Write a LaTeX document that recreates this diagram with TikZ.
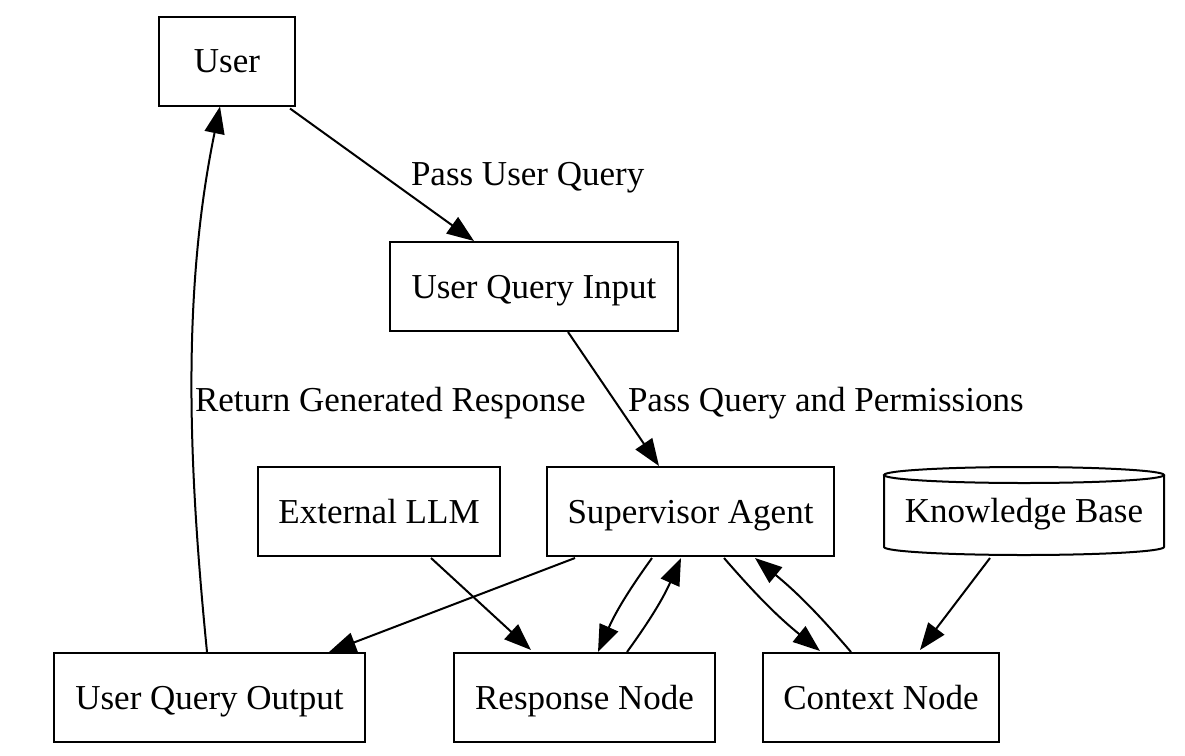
\documentclass[tikz,border=0pt]{standalone}
\usepackage{fontspec}
\setmainfont{Liberation Serif}
\usetikzlibrary{arrows.meta,calc}
\begin{document}
\begin{tikzpicture}[x=1pt,y=-1pt,
  every node/.style={font=\fontsize{35}{42}\selectfont, inner sep=0pt, outer sep=0pt},
  box/.style={draw, line width=2pt, minimum height=89pt, text height=30pt, text depth=7pt},
  lbl/.style={anchor=base west},
  edge/.style={line width=2pt, -{Triangle[length=27pt,width=20pt]}}
]
\useasboundingbox (0,0) rectangle (1185,755);
% nodes
\node[box, minimum width=136pt] (user) at (227,61) {User};
\node[box, minimum width=288pt] (uqi) at (534,286.5) {User Query Input};
\node[box, minimum width=242pt] (llm) at (379,511.5) {External LLM};
\node[box, minimum width=287pt] (sa) at (690.5,511.5) {Supervisor Agent};
\node[minimum width=280pt, minimum height=88pt, text height=30pt, text depth=7pt] (kb) at (1024,511) {Knowledge Base};
\node[box, minimum width=311pt] (uqo) at (209.5,697.5) {User Query Output};
\node[box, minimum width=261pt] (rn) at (584.5,697.5) {Response Node};
\node[box, minimum width=236pt] (cn) at (881,697.5) {Context Node};
% cylinder outline
\draw[line width=2pt] ($(kb.north)+(0,8)$) ellipse [x radius=140pt, y radius=8pt];
\draw[line width=2pt] ($(kb.north west)+(0,8)$) -- ($(kb.south west)+(0,-8)$)
  arc[start angle=180, end angle=360, x radius=140pt, y radius=8pt]
  -- ($(kb.north east)+(0,8)$);
% edges
\draw[edge] ($(user.south west)+(131,3)$) -- ($(uqi.north west)+(84,-1)$);
\draw[edge] ($(uqi.south west)+(178,1)$) -- ($(sa.north west)+(112,-1)$);
\draw[edge] ($(uqo.north west)+(153,-1)$) .. controls (190,480) and (180,300) .. ($(user.south west)+(61,1)$);
\draw[edge] ($(sa.south west)+(28,2)$) -- ($(uqo.north west)+(275,-1)$);
\draw[edge] ($(llm.south west)+(173,2)$) -- ($(rn.north west)+(77,-3)$);
\draw[edge] ($(sa.south west)+(105,2)$) to[bend right=6] ($(rn.north west)+(144,-1)$);
\draw[edge] ($(rn.north west)+(173,-1)$) to[bend right=6] ($(sa.south west)+(134,2)$);
\draw[edge] ($(sa.south west)+(177,2)$) to[bend right=5] ($(cn.north west)+(57,-2)$);
\draw[edge] ($(cn.north west)+(88,-1)$) to[bend right=5] ($(sa.south west)+(208,2)$);
\draw[edge] ($(kb.south west)+(106,3)$) -- ($(cn.north west)+(157,-3)$);
% labels
\node[lbl] (l1) at (411,185) {Pass User Query};
\node[lbl] (l2) at (195,411) {Return Generated Response};
\node[lbl] (l3) at (628,411) {Pass Query and Permissions};
\end{tikzpicture}
\end{document}
